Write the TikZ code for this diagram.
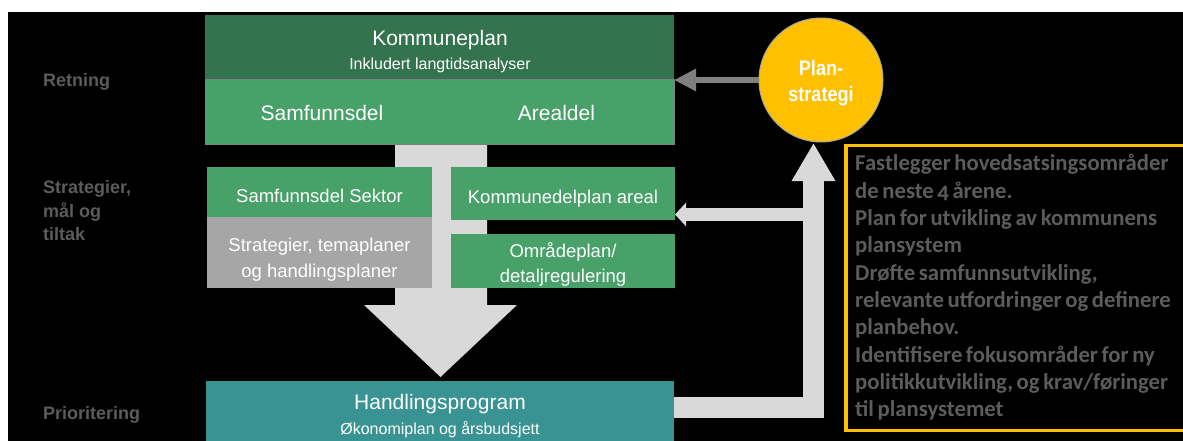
\documentclass[tikz,border=0pt]{standalone}
\usepackage{fontspec}
\setmainfont{Liberation Sans}
\newfontfamily\calfont[Numbers=OldStyle,WordSpace=0.7]{Carlito}
\newfontfamily\narrowfont[FakeStretch=0.86]{Liberation Sans}
\usetikzlibrary{arrows.meta,calc}
\definecolor{dgreen}{HTML}{33734D}
\definecolor{lgreen}{HTML}{47A169}
\definecolor{graybox}{HTML}{A6A6A6}
\definecolor{tealbox}{HTML}{3A9393}
\definecolor{lgarrow}{HTML}{D9D9D9}
\definecolor{garrow}{HTML}{808080}
\definecolor{gold}{HTML}{FFC000}
\definecolor{labgray}{HTML}{5C5C5C}
\newcommand\myfs[1]{\fontsize{#1pt}{#1pt}\selectfont}
\begin{document}
\begin{tikzpicture}[x=1pt,y=-1pt,
  box/.style={anchor=north west, inner sep=0pt, outer sep=0pt},
  wt/.style={text=white, inner sep=0pt, anchor=base},
  big/.style={wt, font=\myfs{21}},
  mid/.style={wt, font=\myfs{18.5}},
  small/.style={wt, font=\myfs{16}},
  side/.style={text=labgray, inner sep=0pt, anchor=base west, font=\bfseries\myfs{18}},
  desc/.style={text=labgray, inner sep=0pt, anchor=base west, font=\calfont\bfseries\myfs{22.7}},
]
\useasboundingbox (0,0) rectangle (1183,441);
\fill[white] (0,0) rectangle (1183,441);
\fill[black] (8,12) rectangle (1183,441);

% big down arrow
\fill[lgarrow] (395,144) -- (487,144) -- (487,305) -- (517,305) -- (440.5,377) -- (364,305) -- (395,305) -- cycle;

% boxes
\node[box, fill=dgreen, minimum width=469pt, minimum height=64pt] (kp) at (205,15) {};
\node[box, fill=lgreen, draw=garrow, line width=0.8pt, minimum width=234pt, minimum height=65pt] (sd) at (205,79) {};
\node[box, fill=lgreen, draw=garrow, line width=0.8pt, minimum width=235pt, minimum height=65pt] (ad) at (439,79) {};
\node[box, fill=lgreen, minimum width=225pt, minimum height=50pt] (ss) at (207,167) {};
\node[box, fill=graybox, minimum width=225pt, minimum height=71pt] (st) at (207,217) {};
\node[box, fill=lgreen, minimum width=224pt, minimum height=53pt] (kda) at (451,167) {};
\node[box, fill=lgreen, minimum width=224pt, minimum height=54pt] (op) at (451,234) {};
\node[box, fill=tealbox, minimum width=468pt, minimum height=70pt] (hp) at (206,381) {};

% box texts
\node[big] (kpt) at (440,46) {Kommuneplan};
\node[small] (kps) at (440,70) {Inkludert langtidsanalyser};
\node[big] (sdt) at (322,121) {Samfunnsdel};
\node[big] (adt) at (556.5,121) {Arealdel};
\node[mid] (sst) at (319.5,202) {Samfunnsdel Sektor};
\node[mid] (st1) at (319.5,251) {Strategier, temaplaner};
\node[mid] (st2) at (319.5,277) {og handlingsplaner};
\node[mid] (kdat) at (563,203) {Kommunedelplan areal};
\node[mid] (op1) at (563,257) {Områdeplan/};
\node[mid] (op2) at (563,282) {detaljregulering};
\node[big] (hpt) at (440,409) {Handlingsprogram};
\node[small] (hps) at (440,434) {Økonomiplan og årsbudsjett};

% side labels
\node[side] (lr) at (43,87) {Retning};
\node[side] (ls1) at (43,193) {Strategier,};
\node[side] (ls2) at (43,217) {mål og};
\node[side] (ls3) at (43,240) {tiltak};
\node[side] (lp) at (43,419) {Prioritering};

% planstrategi circle
\node[circle, fill=gold, draw=garrow!70, line width=1pt, minimum size=124pt, inner sep=0pt] (ps) at (821,80) {};
\node[wt, font=\narrowfont\bfseries\myfs{21}] (ps1) at (821,76) {Plan-};
\node[wt, font=\narrowfont\bfseries\myfs{21}] (ps2) at (821,102) {strategi};

% arrows
\draw[garrow, line width=6pt, -{Triangle[length=22pt,width=21pt]}] (ps.west) -- (ps.west -| kp.east);
\coordinate (lstart) at ($(hp.north east)+(0,26.5)$);
\coordinate (ltip) at (813.5,143);
\coordinate (bstart) at (813.5,214.5);
\draw[lgarrow, line width=21pt, -{Triangle[length=38pt,width=41pt]}] (lstart) -| (ltip);
\draw[lgarrow, line width=13pt, -{Triangle[length=11pt,width=23pt]}] (bstart) -- ($(kda.south east)+(0,-5.5)$);

% description box
\node[box, draw=gold, line width=3.5pt, minimum width=350pt, minimum height=285pt] (tb) at (846,145.5) {};
\foreach \t [count=\i] in {Fastlegger hovedsatsingsområder, de neste 4 årene., Plan for utvikling av kommunens, plansystem, {Drøfte samfunnsutvikling,}, relevante utfordringer og definere, planbehov., Identifisere fokusområder for ny, {politikkutvikling, og krav/føringer}, til plansystemet}
  \node[desc] (d\i) at (855,{171+27.33*(\i-1)}) {\t};
\end{tikzpicture}
\end{document}
